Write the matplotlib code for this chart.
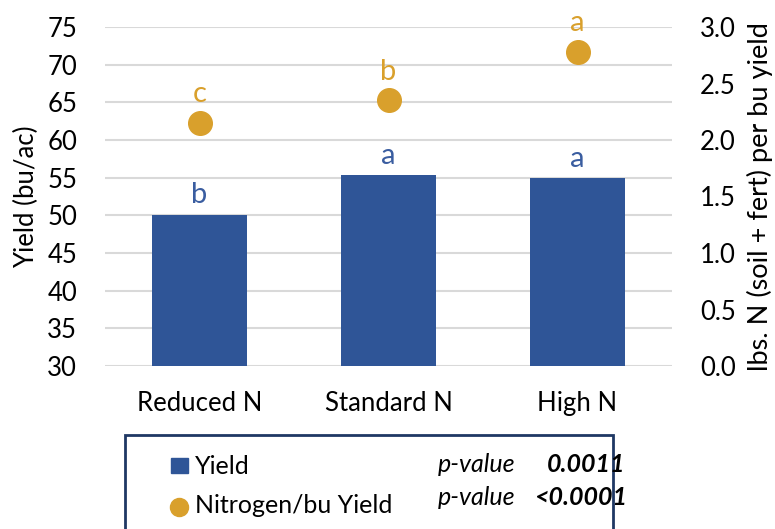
import matplotlib
matplotlib.use("Agg")
import matplotlib.pyplot as plt
from matplotlib.patches import Rectangle
from matplotlib.lines import Line2D

categories = ["Reduced N", "Standard N", "High N"]
yield_vals = [50.1, 55.4, 54.9]
yield_letters = ["b", "a", "a"]
n_per_bu = [2.15, 2.35, 2.78]
n_letters = ["c", "b", "a"]
left_ticks = [30, 35, 40, 45, 50, 55, 60, 65, 70, 75]
right_ticks = [0.0, 0.5, 1.0, 1.5, 2.0, 2.5, 3.0]

BLUE = "#2F5597"
BLUE_TXT = "#3A5DA0"
GOLD = "#D9A02C"
GRID = "#D9D9D9"
FS = 18.5

plt.rcParams["font.family"] = ["Lato", "DejaVu Sans"]

W, H = 775, 529
fig = plt.figure(figsize=(W / 100, H / 100), dpi=100)
ax = fig.add_axes([105 / W, 1 - 366 / H, (672 - 105) / W, (366 - 27) / H])
ax2 = ax.twinx()

x = list(range(len(categories)))
ax.bar(x, yield_vals, width=0.5, color=BLUE, zorder=3)
ax.set_ylim(30, 75)
ax.set_xlim(-0.5, 2.5)
ax.set_yticks(left_ticks)
ax.set_yticklabels([str(t) for t in left_ticks])
ax.set_xticks(x)
ax.set_xticklabels(categories, fontsize=FS)
ax.yaxis.grid(True, color=GRID, linewidth=1.5, zorder=0)
ax.set_axisbelow(True)
ax.tick_params(axis="y", length=0, labelsize=FS, pad=20)
ax.tick_params(axis="x", length=0, labelsize=FS, pad=18)
ax.set_ylabel("Yield (bu/ac)", fontsize=FS, labelpad=6)
for s in ax.spines.values():
    s.set_visible(False)

for xi, v, l in zip(x, yield_vals, yield_letters):
    ax.annotate(l, (xi, v), xytext=(0, 8), textcoords="offset points",
                ha="center", va="baseline", fontsize=21, color=BLUE_TXT)

ax2.plot(x, n_per_bu, "o", color=GOLD, markersize=17, zorder=4)
ax2.set_ylim(0, 3.0)
ax2.set_yticks(right_ticks)
ax2.set_yticklabels([f"{t:.1f}" for t in right_ticks])
ax2.tick_params(axis="y", length=0, labelsize=FS, pad=20)
ax2.set_ylabel("lbs. N (soil + fert) per bu yield", fontsize=19.5, labelpad=8)
for s in ax2.spines.values():
    s.set_visible(False)
for xi, v, l in zip(x, n_per_bu, n_letters):
    ax2.annotate(l, (xi, v), xytext=(0, 15), textcoords="offset points",
                 ha="center", va="baseline", fontsize=21, color=GOLD)

# Legend box
fig.patches.append(Rectangle((125 / W, -10 / H), (613 - 125) / W, (529 - 435 + 10) / H,
                             transform=fig.transFigure, fill=False,
                             edgecolor="#1F3864", linewidth=2, clip_on=False))
fig.patches.append(Rectangle((171 / W, 1 - 473 / H), 17 / W, 15 / H,
                             transform=fig.transFigure, color=BLUE))
fig.lines.append(Line2D([179 / W], [1 - 507 / H], marker="o", color=GOLD,
                        markersize=13, transform=fig.transFigure))
LFS = 18
fig.text(195 / W, 1 - 474 / H, "Yield", fontsize=LFS, va="baseline", ha="left")
fig.text(195 / W, 1 - 513 / H, "Nitrogen/bu Yield", fontsize=LFS, va="baseline", ha="left")
fig.text(438 / W, 1 - 472 / H, "p-value", fontsize=LFS, style="italic", va="baseline", ha="left")
fig.text(547 / W, 1 - 472 / H, "0.0011", fontsize=LFS, style="italic", weight="bold",
         va="baseline", ha="left")
fig.text(438 / W, 1 - 505 / H, "p-value", fontsize=LFS, style="italic", va="baseline", ha="left")
fig.text(534 / W, 1 - 505 / H, "<0.0001", fontsize=LFS, style="italic", weight="bold",
         va="baseline", ha="left")

fig.savefig("out.png", dpi=100)
